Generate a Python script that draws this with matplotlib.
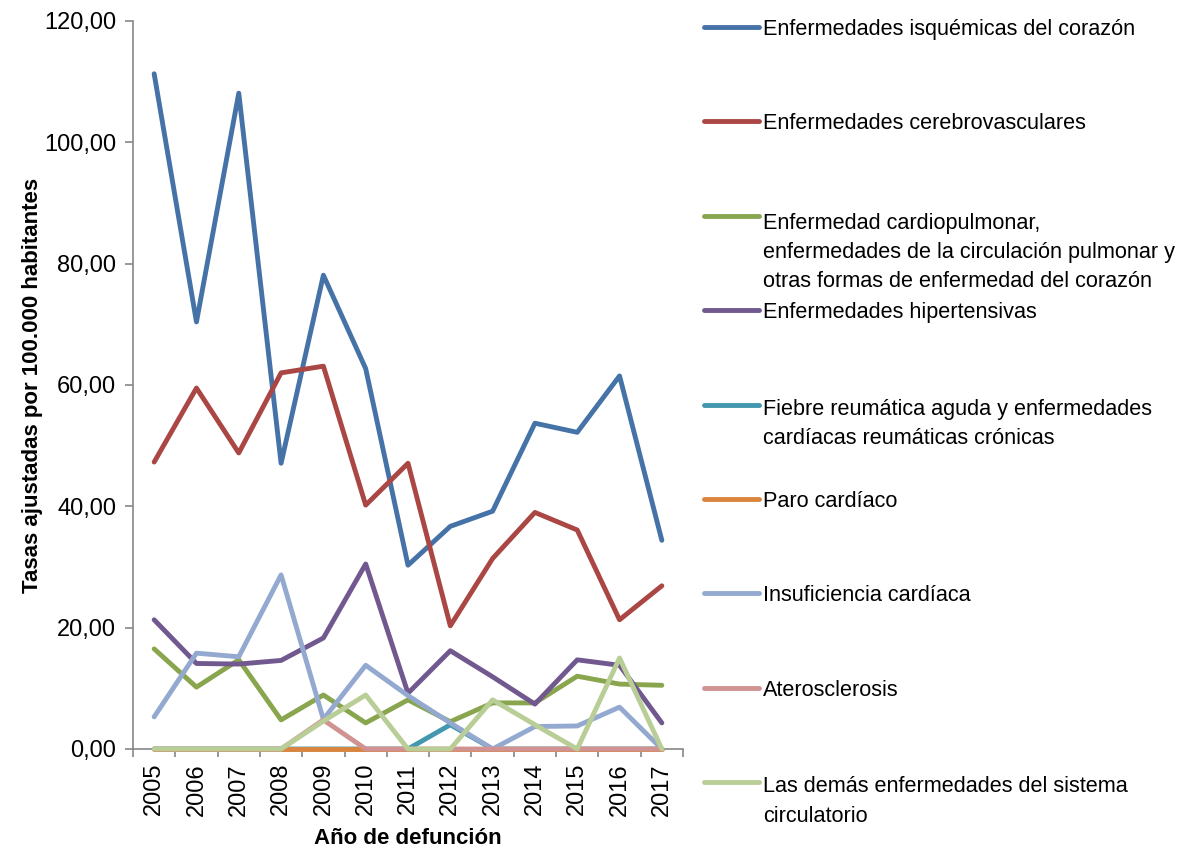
import numpy as np
import matplotlib
matplotlib.use('Agg')
import matplotlib.pyplot as plt
from matplotlib.lines import Line2D
from matplotlib.ticker import FuncFormatter, MultipleLocator

# ── Data (tasas ajustadas por 100.000 habitantes) ─────────────
years = ['2005', '2006', '2007', '2008', '2009', '2010', '2011',
         '2012', '2013', '2014', '2015', '2016', '2017']

isquemicas      = [111.3, 70.4, 108.1, 47.1, 78.1, 62.7, 30.3, 36.7, 39.2, 53.7, 52.2, 61.5, 34.4]
cerebrovascular = [47.3, 59.5, 48.8, 62.0, 63.1, 40.2, 47.1, 20.3, 31.4, 39.0, 36.1, 21.3, 26.9]
cardiopulmonar  = [16.5, 10.2, 14.7, 4.8, 8.9, 4.3, 8.1, 4.5, 7.6, 7.6, 12.0, 10.7, 10.5]
hipertensivas   = [21.3, 14.1, 14.0, 14.6, 18.3, 30.5, 9.2, 16.2, 11.9, 7.4, 14.7, 13.8, 4.3]
fiebre_reum     = [0, 0, 0, 0, 0, 0, 0, 4.0, 0, 0, 0, 0, 0]
paro_cardiaco   = [0, 0, 0, 0, 0, 0, 0, 0, 0, 0, 0, 0, 0]
insuficiencia   = [5.3, 15.8, 15.2, 28.7, 4.9, 13.8, 8.8, 4.3, 0.0, 3.7, 3.8, 6.9, 0.0]
aterosclerosis  = [0, 0, 0, 0, 4.8, 0, 0, 0, 0, 0, 0, 0, 0]
demas           = [0, 0, 0, 0, 4.6, 8.9, 0, 0, 8.1, 4.0, 0, 15.0, 0]

series = [isquemicas, cerebrovascular, cardiopulmonar, hipertensivas,
          fiebre_reum, paro_cardiaco, insuficiencia, aterosclerosis, demas]

labels = [
    'Enfermedades isquémicas del corazón',
    'Enfermedades cerebrovasculares',
    'Enfermedad cardiopulmonar,\nenfermedades de la circulación pulmonar y\n'
    'otras formas de enfermedad del corazón',
    'Enfermedades hipertensivas',
    'Fiebre reumática aguda y enfermedades\ncardíacas reumáticas crónicas',
    'Paro cardíaco',
    'Insuficiencia cardíaca',
    'Aterosclerosis',
    'Las demás enfermedades del sistema\ncirculatorio',
]

colors = ['#4572A7', '#AA4643', '#89A54E', '#71588F', '#4198AF',
          '#DB843D', '#93A9CF', '#D19392', '#B9CD96']

# ── Style ─────────────────────────────────────────────────────
W, H = 1189, 852
plt.rcParams.update({
    'font.family': ['Liberation Sans', 'DejaVu Sans'],
    'font.size': 17,
})

fig = plt.figure(figsize=(W / 100, H / 100), dpi=100)
ax = fig.add_axes([133 / W, 1 - 749 / H, 550 / W, 728 / H])

x = np.arange(len(years))
for vals, c in zip(series, colors):
    ax.plot(x, vals, color=c, lw=3.5, solid_capstyle='round',
            solid_joinstyle='round', clip_on=False, zorder=3)

# ── Axes ──────────────────────────────────────────────────────
ax.set_xlim(-0.5, len(years) - 0.5)
ax.set_ylim(0, 120)
ax.yaxis.set_major_locator(MultipleLocator(20))
ax.yaxis.set_major_formatter(FuncFormatter(lambda v, p: f'{v:.2f}'.replace('.', ',')))

ax.set_xticks(x)
ax.set_xticklabels(years, rotation=90)
ax.set_xticks(np.arange(-0.5, len(years), 1), minor=True)
ax.tick_params(axis='x', which='major', length=0, pad=10)
ax.tick_params(axis='x', which='minor', length=6, width=1.2, color='#868686')
ax.tick_params(axis='y', length=6, width=1.2, color='#868686', pad=6)

for s in ['top', 'right']:
    ax.spines[s].set_visible(False)
for s in ['left', 'bottom']:
    ax.spines[s].set_color('#868686')
    ax.spines[s].set_linewidth(1.2)

ax.set_ylabel('Tasas ajustadas por 100.000 habitantes',
              fontweight='bold', fontsize=16, labelpad=1)
ax.set_xlabel('Año de defunción', fontweight='bold',
              fontsize=16, labelpad=9)

# ── Legend (Excel style: evenly spaced, text hanging from line) ─
y0, step, gap = 27, (782 - 27) / 8, 31.5
for i, (lab, c) in enumerate(zip(labels, colors)):
    ly = y0 + i * step
    n = lab.count('\n')
    fig.add_artist(Line2D([704 / W, 759 / W], [1 - ly / H, 1 - ly / H],
                          color=c, lw=3.5, solid_capstyle='round'))
    fig.text(763 / W, 1 - (ly + 8 + n * gap) / H, lab, fontsize=15.6,
             va='baseline', ha='left', linespacing=1.5)

fig.savefig('out.png', dpi=100)
